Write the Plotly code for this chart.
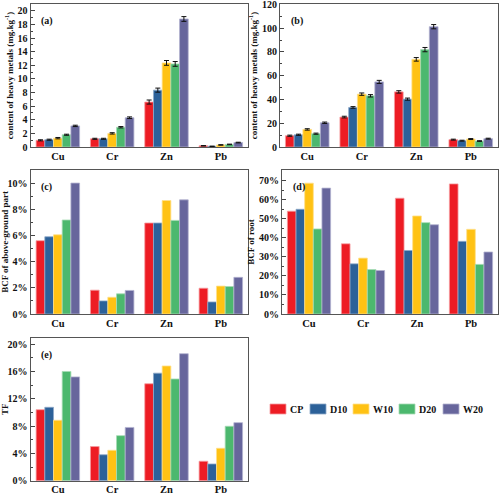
import plotly.graph_objects as go

metals = ["Cu", "Cr", "Zn", "Pb"]
treatments = ["CP", "D10", "W10", "D20", "W20"]
colors = ["#ED1C24", "#2C6199", "#FFC214", "#4CB86E", "#67669C"]
edge_colors = ["#F59A9E", "#8EA8C8", "#FFE08A", "#A6DBB4", "#B3B2CF"]

# (a) above-ground content (mg/kg), rows = treatments, cols = metals
a_vals = [
    [0.98, 1.2, 6.6, 0.18],
    [1.07, 1.2, 8.35, 0.1],
    [1.3, 2.0, 12.35, 0.3],
    [1.8, 2.9, 12.2, 0.38],
    [3.1, 4.3, 18.8, 0.65],
]
a_err = [
    [0.08, 0.08, 0.3, 0.03],
    [0.08, 0.08, 0.3, 0.03],
    [0.1, 0.1, 0.35, 0.04],
    [0.08, 0.1, 0.35, 0.04],
    [0.1, 0.12, 0.35, 0.05],
]
# (b) root content (mg/kg)
b_vals = [
    [9.5, 25.2, 46.4, 6.2],
    [10.3, 33.3, 40.3, 5.3],
    [14.8, 44.5, 73.8, 6.7],
    [11.2, 43.1, 82.0, 5.0],
    [20.4, 54.8, 101.3, 7.0],
]
b_err = [
    [0.5, 0.7, 1.0, 0.4],
    [0.5, 0.7, 0.9, 0.4],
    [0.6, 1.0, 1.5, 0.4],
    [0.5, 1.0, 1.8, 0.3],
    [0.6, 1.3, 1.8, 0.4],
]
# (c) BCF of above-ground part
c_vals = [
    [0.056, 0.0182, 0.0695, 0.0197],
    [0.059, 0.010, 0.0695, 0.0092],
    [0.0605, 0.0128, 0.0867, 0.0213],
    [0.0718, 0.0154, 0.0715, 0.021],
    [0.100, 0.018, 0.0872, 0.028],
]
# (d) BCF of root
d_vals = [
    [0.539, 0.368, 0.607, 0.682],
    [0.549, 0.263, 0.333, 0.381],
    [0.686, 0.293, 0.514, 0.444],
    [0.446, 0.233, 0.479, 0.260],
    [0.660, 0.228, 0.468, 0.325],
]
# (e) TF
e_vals = [
    [0.104, 0.050, 0.142, 0.0285],
    [0.1075, 0.038, 0.1575, 0.0245],
    [0.0885, 0.0445, 0.168, 0.0475],
    [0.160, 0.066, 0.149, 0.0797],
    [0.152, 0.078, 0.186, 0.085],
]

FONT = "Liberation Serif, Times New Roman, serif"

fig = go.Figure()

panels = [
    ("x", "y", a_vals, a_err),
    ("x2", "y2", b_vals, b_err),
    ("x3", "y3", c_vals, None),
    ("x4", "y4", d_vals, None),
    ("x5", "y5", e_vals, None),
]

for xa, ya, vals, errs in panels:
    for i, t in enumerate(treatments):
        kw = {}
        if errs is not None:
            kw["error_y"] = dict(type="data", array=errs[i], color="#111111",
                                 thickness=1, width=2.5)
        fig.add_trace(go.Bar(
            x=metals, y=vals[i], name=t, xaxis=xa, yaxis=ya,
            marker=dict(color=colors[i], line=dict(color=edge_colors[i], width=0.8)),
            showlegend=False, **kw))

W, H = 500, 493
def px_x(p):
    return p / W
def px_y(p):
    return 1 - p / H

tickfont = dict(family=FONT, size=10, color="#111111", weight="bold")
titlefont = dict(family=FONT, size=9, color="#111111", weight="bold")

def yax(dom, rng, dtick, minor, title, fmt=None, anchor="x"):
    d = dict(domain=dom, range=rng, dtick=dtick, tick0=0, ticks="inside", ticklen=4,
             tickwidth=1, tickcolor="#444444",
             minor=dict(dtick=minor, ticks="inside", ticklen=2, tickcolor="#444444"),
             showline=True, linecolor="#555555", linewidth=1.2, mirror=True,
             showgrid=False, zeroline=False, tickfont=tickfont, automargin=False,
             ticklabeloverflow="allow",
             title=dict(text=title, font=titlefont, standoff=2), anchor=anchor)
    if fmt:
        d["tickformat"] = fmt
    return d

def xax(dom, anchor):
    return dict(domain=dom, showline=True, linecolor="#555555", linewidth=1.2, mirror=True,
                ticks="", showgrid=False, automargin=False, ticklabelstandoff=-1,
                ticklabeloverflow="allow",
                tickfont=dict(family=FONT, size=10.5, color="#111111", weight="bold"),
                anchor=anchor)

left = [px_x(30.7), px_x(248)]
right_b = [px_x(280), px_x(498)]
right_d = [px_x(282), px_x(498)]
row1 = [px_y(147), px_y(4)]
row2 = [px_y(314), px_y(170)]
row3 = [px_y(480.7), px_y(338)]

fig.update_layout(
    width=W, height=H, margin=dict(l=0, r=0, t=0, b=0, autoexpand=False),
    paper_bgcolor="white", plot_bgcolor="white",
    barmode="group", bargap=0.2, bargroupgap=0,
    font=dict(family=FONT, color="#111111"),
    xaxis=xax(left, "y"),
    yaxis=yax(row1, [0, 21], 2, 1, "content of heavy metals (mg.kg<sup>-1</sup>)", anchor="x"),
    xaxis2=xax(right_b, "y2"),
    yaxis2=yax(row1, [0, 120.4], 20, 10, "content of heavy metals (mg.kg<sup>-1</sup>)", anchor="x2"),
    xaxis3=xax(left, "y3"),
    yaxis3=yax(row2, [0, 0.11], 0.02, 0.01, "BCF of above-ground part", ".0%", anchor="x3"),
    xaxis4=xax(right_d, "y4"),
    yaxis4=yax(row2, [0, 0.755], 0.1, 0.05, "BCF of root", ".0%", anchor="x4"),
    xaxis5=xax(left, "y5"),
    yaxis5=yax(row3, [0, 0.209], 0.04, 0.02, "TF", ".0%", anchor="x5"),
)

labels = [("(a)", "x", "y"), ("(b)", "x2", "y2"), ("(c)", "x3", "y3"),
          ("(d)", "x4", "y4"), ("(e)", "x5", "y5")]
for txt, xa, ya in labels:
    fig.add_annotation(text=txt, xref=f"{xa} domain", yref=f"{ya} domain",
                       x=0.04, y=0.94, xanchor="left", yanchor="top", showarrow=False,
                       font=dict(family=FONT, size=10, color="#111111", weight="bold"))

# manual legend
legend_x = [270, 310, 353, 399, 443]
ly = 409
for i, t in enumerate(treatments):
    x0 = legend_x[i]
    fig.add_shape(type="rect", xref="paper", yref="paper",
                  x0=px_x(x0), x1=px_x(x0 + 16), y0=px_y(ly + 5), y1=px_y(ly - 5),
                  fillcolor=colors[i], line=dict(color=edge_colors[i], width=0.8))
    fig.add_annotation(text=t, xref="paper", yref="paper", x=px_x(x0 + 18), y=px_y(ly),
                       xanchor="left", yanchor="middle", showarrow=False,
                       font=dict(family=FONT, size=10, color="#111111", weight="bold"))

fig.write_html("out.html", config={"displayModeBar": False},
               post_script="document.body.style.margin='0';document.body.style.overflow='hidden';")
